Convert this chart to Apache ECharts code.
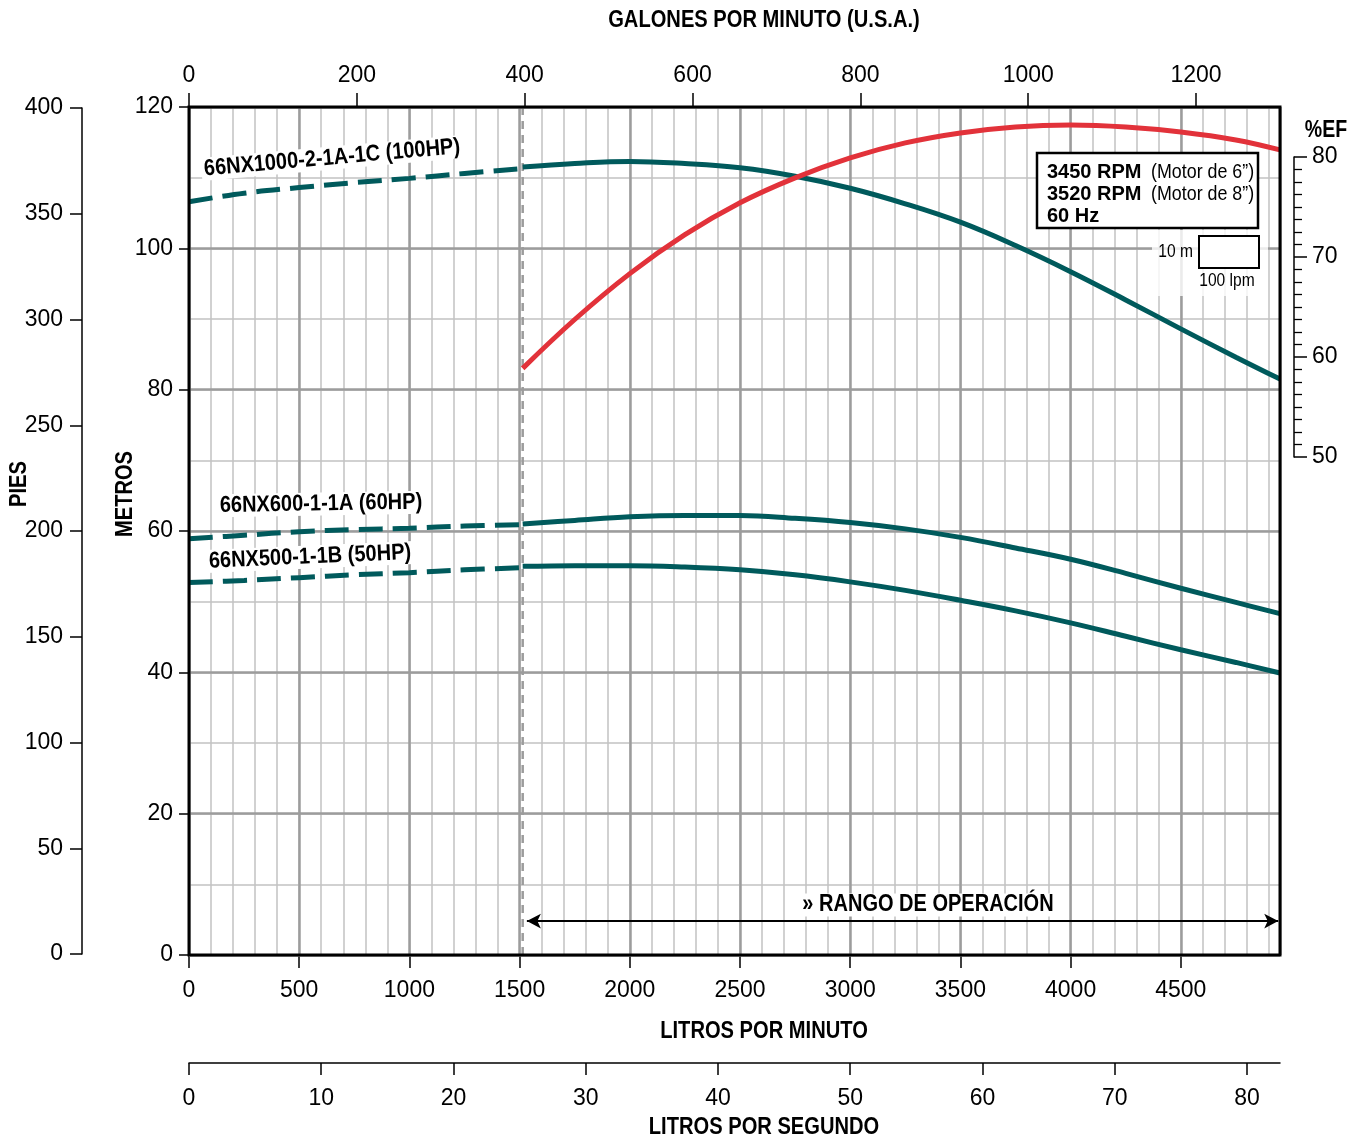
<!DOCTYPE html>
<html><head><meta charset="utf-8">
<script src="https://cdn.jsdelivr.net/npm/echarts@6/dist/echarts.min.js"></script>
<style>html,body{margin:0;padding:0;background:#fff}#c{width:1361px;height:1142px}</style>
</head><body><div id="c"></div>
<script>
// ---- data ----
const lpmDashed = [0, 250, 500, 750, 1000, 1250, 1514];
const lpmSolid = [1514, 1750, 2000, 2250, 2500, 2750, 3000, 3250, 3500, 3750, 4000, 4250, 4500, 4750, 4950];
const head100Dashed = [106.6, 107.8, 108.6, 109.3, 109.9, 110.6, 111.3];
const head100Solid = [111.5, 112.0, 112.3, 112.0, 111.4, 110.2, 108.5, 106.3, 103.7, 100.4, 96.7, 92.7, 88.6, 84.6, 81.5];
const head60Dashed = [58.9, 59.4, 59.9, 60.2, 60.4, 60.7, 60.9];
const head60Solid = [61.0, 61.5, 62.0, 62.2, 62.2, 61.8, 61.2, 60.3, 59.1, 57.6, 56.0, 54.0, 51.9, 49.9, 48.3];
const head50Dashed = [52.7, 53.0, 53.4, 53.8, 54.1, 54.5, 54.8];
const head50Solid = [55.0, 55.1, 55.1, 54.9, 54.5, 53.8, 52.8, 51.6, 50.2, 48.7, 47.0, 45.1, 43.2, 41.4, 39.9];
const eff100Solid = [58.8, 63.7, 68.3, 72.2, 75.4, 77.9, 79.9, 81.4, 82.4, 83.0, 83.2, 83.0, 82.5, 81.7, 80.7];
const opStartLpm = 1514;
const opRangeLpm = [1533, 4942];
const opRangeHead = 4.8;

const LPM_MAX = 4950, GPM_MAX = 1300, LPS_MAX = 82.5;   // axis extents
const LPM_LAST = 4500, GPM_LAST = 1200, LPS_LAST = 80; // last labelled ticks
const curveNames = ['66NX1000-2-1A-1C (100HP)', '66NX600-1-1A (60HP)', '66NX500-1-1B (50HP)'];
const legendBold = ['3450 RPM', '3520 RPM', '60 Hz'];
const legendNote = ['(Motor de 6\u201D)', '(Motor de 8\u201D)', ''];

// ---- styling / layout ----
const TEAL = '#005a5c', RED = '#e2323a';
const NUM = '"Liberation Sans", Arial, sans-serif';
const PL = 189, PT = 107, PW = 1091, PH = 848;
const zip = (xs, ys) => xs.map((x, i) => [x, ys[i]]);
const fmt = v => String(v);
const minorLine = { show: true, lineStyle: { color: '#c2c2c2', width: 1.5 } };
const majorLine = { show: true, lineStyle: { color: '#9c9c9c', width: 2.5 } };
const lbl = (extra) => Object.assign({ color: '#000', fontFamily: NUM, fontSize: 23, formatter: fmt }, extra);
const tick = (len) => ({ show: true, length: len, lineStyle: { color: '#000', width: 1.5 } });
const noLine = { show: false, onZero: false };
const hidden = { axisLine: noLine, axisTick: { show: false }, axisLabel: { show: false }, splitLine: { show: false } };
const dummy = (g) => Object.assign({ type: 'value', gridIndex: g, min: 0, max: 1 }, hidden);

function T(x, y, text, o) {
  o = o || {};
  const el = { type: 'text', z: o.z || 95, x: x, y: y, rotation: o.rotation || 0,
    scaleX: o.scaleX !== undefined ? o.scaleX : 0.875,
    style: Object.assign({ text: text, font: 'bold 23px ' + NUM, fill: '#000', align: 'center', verticalAlign: 'middle' }, o.style || {}) };
  return el;
}

const graphics = [
  { type: 'rect', z: 90, silent: true, shape: { x: PL, y: PT, width: PW, height: PH },
    style: { fill: null, stroke: '#000', lineWidth: 3 } },
  T(764, 21, 'GALONES POR MINUTO (U.S.A.)'),
  T(764, 1032, 'LITROS POR MINUTO'),
  T(764, 1128, 'LITROS POR SEGUNDO'),
  T(126, 494, 'METROS', { rotation: Math.PI / 2 }),
  T(20, 484, 'PIES', { rotation: Math.PI / 2 }),
  T(1326, 131, '%EF', { scaleX: 0.85 }),
  T(332, 158, curveNames[0], { rotation: 5 * Math.PI / 180, scaleX: 0.87, style: { backgroundColor: '#fff', padding: [0, 3] } }),
  T(321, 504, curveNames[1], { rotation: 1 * Math.PI / 180, scaleX: 0.87, style: { backgroundColor: '#fff', padding: [0, 3] } }),
  T(310, 557, curveNames[2], { rotation: 2.5 * Math.PI / 180, scaleX: 0.87, style: { backgroundColor: '#fff', padding: [0, 3] } }),
  T(928, 905, '\u00BB RANGO DE OPERACI\u00D3N', { scaleX: 0.87, style: { backgroundColor: '#fff', padding: [0, 2] } }),
  { type: 'rect', z: 96, shape: { x: 1037, y: 153, width: 221, height: 75 }, style: { fill: '#fff', stroke: '#000', lineWidth: 2.5 } },
  { type: 'rect', z: 96, shape: { x: 1152, y: 230, width: 116, height: 66 }, style: { fill: 'rgba(255,255,255,0.8)' } },
  { type: 'rect', z: 97, shape: { x: 1199, y: 236, width: 60, height: 32 }, style: { fill: '#fff', stroke: '#000', lineWidth: 2 } },
  T(1193, 252, '10 m', { z: 97, scaleX: 0.82, style: { font: '19px ' + NUM, align: 'right' } }),
  T(1227, 281, '100 lpm', { z: 97, scaleX: 0.82, style: { font: '19px ' + NUM } })
];
legendBold.forEach((b, i) => {
  graphics.push(T(1047, 172 + i * 22, b, { z: 97, scaleX: 1, style: { font: 'bold 20px ' + NUM, align: 'left' } }));
  if (legendNote[i]) graphics.push(T(1151, 172 + i * 22, legendNote[i], { z: 97, scaleX: 0.85, style: { font: '21px ' + NUM, align: 'left' } }));
});

const option = {
  animation: false,
  backgroundColor: '#fff',
  grid: [
    { left: PL, top: PT, width: PW, height: PH, outerBoundsMode: 'none' },                       // 0 main
    { left: PL, top: 1062, width: PW, height: 1, outerBoundsMode: 'none' },                      // 1 lps line
    { left: 82, top: 108, width: 1, height: 846, outerBoundsMode: 'none' },                      // 2 feet
    { left: 1293, top: 157, width: 1, height: 300, outerBoundsMode: 'none' },                    // 3 %EF
    { left: PL, top: PT + PH - 1, width: PW * LPM_LAST / LPM_MAX, height: 1, outerBoundsMode: 'none' }, // 4 lpm ticks
    { left: PL, top: PT, width: PW * GPM_LAST / GPM_MAX, height: 1, outerBoundsMode: 'none' },   // 5 gpm ticks
    { left: PL, top: 1062, width: PW * LPS_LAST / LPS_MAX, height: 1, outerBoundsMode: 'none' }  // 6 lps ticks
  ],
  xAxis: [
    Object.assign({ type: 'value', gridIndex: 0, min: 0, max: LPM_MAX, interval: 100, z: 0 }, hidden, { splitLine: minorLine }),
    Object.assign({ type: 'value', gridIndex: 0, min: 0, max: LPM_MAX, interval: 500, z: 1 }, hidden, { splitLine: majorLine }),
    { type: 'value', gridIndex: 1, min: 0, max: LPS_MAX, position: 'bottom',
      axisLine: { show: true, onZero: false, lineStyle: { color: '#000', width: 1.5 } },
      axisTick: { show: false }, axisLabel: { show: false }, splitLine: { show: false } },
    dummy(2), dummy(3),
    { type: 'value', gridIndex: 4, min: 0, max: LPM_LAST, interval: 500, position: 'bottom',
      axisLine: noLine, axisTick: tick(13), axisLabel: lbl({ margin: 24 }), splitLine: { show: false } },
    { type: 'value', gridIndex: 5, min: 0, max: GPM_LAST, interval: 200, position: 'top',
      axisLine: noLine, axisTick: tick(14), axisLabel: lbl({ margin: 20 }), splitLine: { show: false } },
    { type: 'value', gridIndex: 6, min: 0, max: LPS_LAST, interval: 10, position: 'bottom',
      axisLine: noLine, axisTick: tick(12), axisLabel: lbl({ margin: 24 }), splitLine: { show: false } }
  ],
  yAxis: [
    Object.assign({ type: 'value', gridIndex: 0, min: 0, max: 120, interval: 10, z: 0 }, hidden, { splitLine: minorLine }),
    { type: 'value', gridIndex: 0, min: 0, max: 120, interval: 20, position: 'left', z: 1,
      axisLine: noLine, axisTick: tick(10), axisLabel: lbl({ margin: 16 }), splitLine: majorLine },
    Object.assign({ type: 'value', gridIndex: 0, min: 0, max: 85, position: 'right' }, hidden),
    dummy(1),
    { type: 'value', gridIndex: 2, min: 0, max: 400, interval: 50, position: 'left',
      axisLine: { show: true, onZero: false, lineStyle: { color: '#000', width: 1.5 } },
      axisTick: tick(12), axisLabel: lbl({ margin: 19 }), splitLine: { show: false } },
    { type: 'value', gridIndex: 3, min: 50, max: 80, interval: 10, position: 'right',
      axisLine: { show: true, onZero: false, lineStyle: { color: '#000', width: 1.5 } },
      axisTick: tick(13),
      minorTick: { show: true, splitNumber: 8, length: 8, lineStyle: { color: '#000', width: 1.3 } },
      axisLabel: lbl({ margin: 18 }), splitLine: { show: false } },
    dummy(4), dummy(5), dummy(6)
  ],
  series: [
    { name: 'opStart', type: 'line', xAxisIndex: 1, yAxisIndex: 1, symbol: 'none', z: 3, silent: true,
      data: [[opStartLpm, 0], [opStartLpm, 120]],
      lineStyle: { color: '#9c9c9c', width: 2.5, type: [8, 6] },
      markLine: {
        silent: true, animation: false, symbol: ['arrow', 'arrow'], symbolSize: [11, 14],
        lineStyle: { color: '#000', width: 2, type: 'solid' }, label: { show: false },
        data: [[{ coord: [opRangeLpm[0], opRangeHead] }, { coord: [opRangeLpm[1], opRangeHead] }]]
      } },
    { name: curveNames[0] + ' d', type: 'line', xAxisIndex: 1, yAxisIndex: 1, symbol: 'none', smooth: 0.4, z: 5,
      data: zip(lpmDashed, head100Dashed), lineStyle: { color: TEAL, width: 5, type: [24, 10] } },
    { name: curveNames[0], type: 'line', xAxisIndex: 1, yAxisIndex: 1, symbol: 'none', smooth: 0.4, z: 5,
      data: zip(lpmSolid, head100Solid), lineStyle: { color: TEAL, width: 5 } },
    { name: curveNames[1] + ' d', type: 'line', xAxisIndex: 1, yAxisIndex: 1, symbol: 'none', smooth: 0.4, z: 5,
      data: zip(lpmDashed, head60Dashed), lineStyle: { color: TEAL, width: 5, type: [24, 10] } },
    { name: curveNames[1], type: 'line', xAxisIndex: 1, yAxisIndex: 1, symbol: 'none', smooth: 0.4, z: 5,
      data: zip(lpmSolid, head60Solid), lineStyle: { color: TEAL, width: 5 } },
    { name: curveNames[2] + ' d', type: 'line', xAxisIndex: 1, yAxisIndex: 1, symbol: 'none', smooth: 0.4, z: 5,
      data: zip(lpmDashed, head50Dashed), lineStyle: { color: TEAL, width: 5, type: [24, 10] } },
    { name: curveNames[2], type: 'line', xAxisIndex: 1, yAxisIndex: 1, symbol: 'none', smooth: 0.4, z: 5,
      data: zip(lpmSolid, head50Solid), lineStyle: { color: TEAL, width: 5 } },
    { name: '%EF', type: 'line', xAxisIndex: 1, yAxisIndex: 2, symbol: 'none', smooth: 0.4, z: 6,
      data: zip(lpmSolid, eff100Solid), lineStyle: { color: RED, width: 5 } }
  ],
  graphic: graphics
};
const chart = echarts.init(document.getElementById('c'), null, { renderer: 'canvas' });
chart.setOption(option);
</script></body></html>
